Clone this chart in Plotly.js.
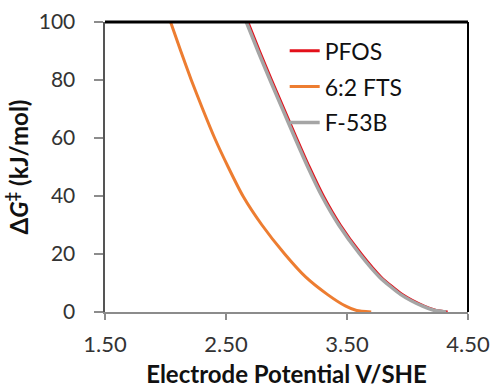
<!DOCTYPE html>
<html>
<head>
<meta charset="utf-8">
<script src="https://cdn.plot.ly/plotly-3.0.1.min.js"></script>
<style>html,body{margin:0;padding:0;background:#fff;}#chart{width:494px;height:391px;}</style>
</head>
<body>
<div id="chart"></div>
<script>
// Activation free energy (kJ/mol) vs electrode potential (V/SHE)
const dG    = [100, 90, 80, 70, 60, 50, 40, 30, 20, 12, 6, 2, 0.5, 0];
const pfosV = [2.680, 2.776, 2.876, 2.979, 3.082, 3.188, 3.304, 3.444, 3.617, 3.782, 3.957, 4.137, 4.237, 4.332];
const ftsV  = [2.042, 2.126, 2.213, 2.307, 2.406, 2.518, 2.640, 2.797, 2.985, 3.160, 3.340, 3.490, 3.580, 3.700];
const f53bV = [2.668, 2.764, 2.864, 2.967, 3.070, 3.176, 3.292, 3.432, 3.605, 3.770, 3.945, 4.125, 4.225, 4.320];
const seriesNames = ["PFOS", "6:2 FTS", "F-53B"];
const xTicks = [1.5, 2.5, 3.5, 4.5];
const xTickLabels = ["1.50", "2.50", "3.50", "4.50"];
const yTicks = [0, 20, 40, 60, 80, 100];

const FONT = "Lato, 'Open Sans', sans-serif";

const traces = [
  {x: pfosV, y: dG, name: seriesNames[0], mode: "lines", line: {color: "#e3101a", width: 3, shape: "spline", smoothing: 0.6}, legendgroup: "a"},
  {x: ftsV, y: dG, name: seriesNames[1], mode: "lines", line: {color: "#ed7d31", width: 3, shape: "spline", smoothing: 0.6}, legendgroup: "b"},
  {x: f53bV, y: dG, name: seriesNames[2], mode: "lines", line: {color: "#a5a5a5", width: 3.5, shape: "spline", smoothing: 0.6}, legendgroup: "c"}
];

const layout = {
  width: 494, height: 391,
  margin: {l: 105, r: 26, t: 22, b: 79},
  paper_bgcolor: "#fff", plot_bgcolor: "#fff",
  font: {family: FONT, size: 22, color: "#222"},
  showlegend: true,
  legend: {x: 0.495, y: 0.975, xanchor: "left", yanchor: "top", bgcolor: "rgba(0,0,0,0)",
           font: {family: FONT, size: 23, color: "#111"}, tracegroupgap: 3, itemwidth: 30},
  xaxis: {
    range: [1.5, 4.5], tickvals: xTicks, ticktext: xTickLabels,
    showgrid: false, zeroline: false, showline: true, linecolor: "#8c8c8c", linewidth: 2,
    ticks: "outside", ticklen: 6, tickcolor: "#8c8c8c", tickwidth: 1.5, ticklabelstandoff: 6,
    tickfont: {family: FONT, size: 22, color: "#333"},
    title: {text: "<b>Electrode Potential V/SHE</b>", font: {family: FONT, size: 24, color: "#111"}, standoff: 10}
  },
  yaxis: {
    range: [0, 100], tickvals: yTicks,
    showgrid: false, zeroline: false, showline: true, linecolor: "#555", linewidth: 2.5,
    ticks: "outside", ticklen: 9, tickcolor: "#8c8c8c", tickwidth: 1.5, ticklabelstandoff: 14,
    tickfont: {family: FONT, size: 21, color: "#333"},
    title: {text: "<b>Δ<i>G</i><sup>‡</sup> (kJ/mol)</b>", font: {family: FONT, size: 24, color: "#111"}, standoff: 4}
  },
  shapes: [
    {type: "line", xref: "paper", yref: "paper", x0: 0, x1: 1, y0: 1, y1: 1, line: {color: "#000", width: 3}},
    {type: "line", xref: "paper", yref: "paper", x0: 1, x1: 1, y0: 0, y1: 1, line: {color: "#000", width: 2}}
  ]
};

Plotly.newPlot("chart", traces, layout, {displayModeBar: false, staticPlot: true});
</script>
</body>
</html>
